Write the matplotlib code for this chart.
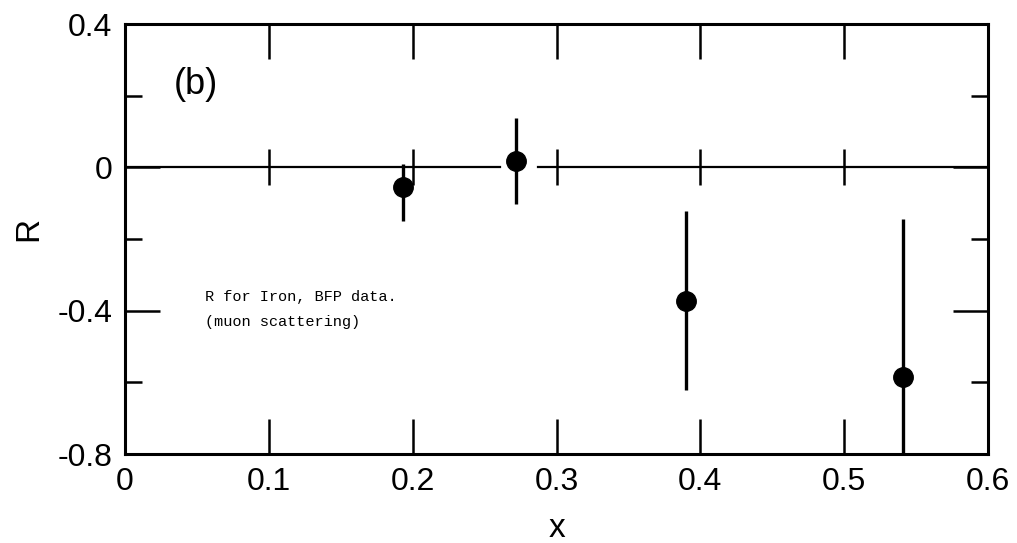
import matplotlib
matplotlib.use("Agg")
import matplotlib.pyplot as plt
from matplotlib.ticker import MultipleLocator

# R for iron, BFP muon scattering data
x_vals = [0.193, 0.272, 0.390, 0.541]
r_vals = [-0.056, 0.017, -0.372, -0.585]
err_low = [0.095, 0.12, 0.25, 0.44]
err_high = [0.066, 0.12, 0.25, 0.44]

x_ticks = [0, 0.1, 0.2, 0.3, 0.4, 0.5, 0.6]
x_tick_labels = ["0", "0.1", "0.2", "0.3", "0.4", "0.5", "0.6"]
y_ticks = [-0.8, -0.4, 0, 0.4]
y_tick_labels = ["-0.8", "-0.4", "0", "0.4"]

plt.rcParams["font.family"] = ["Liberation Sans", "DejaVu Sans"]

fig = plt.figure(figsize=(10.17, 5.43), dpi=100)
ax = fig.add_axes([0.1229, 0.1639, 0.8486, 0.7919])

ax.set_xlim(0, 0.6)
ax.set_ylim(-0.8, 0.4)

# zero line, interrupted around the second point
ax.plot([0, 0.261], [0, 0], color="black", lw=1.6, zorder=2)
ax.plot([0.287, 0.6], [0, 0], color="black", lw=1.6, zorder=2)
# small crossing ticks along the zero line
ax.vlines(x_ticks[1:-1], -0.05, 0.05, color="black", lw=1.8, zorder=2)

ax.errorbar(x_vals, r_vals, yerr=[err_low, err_high], fmt="o", color="black",
            ms=14, elinewidth=2.4, capsize=0, zorder=3, clip_on=True)

ax.set_xticks(x_ticks)
ax.set_xticklabels(x_tick_labels)
ax.set_yticks(y_ticks)
ax.set_yticklabels(y_tick_labels)
ax.yaxis.set_minor_locator(MultipleLocator(0.2))

ax.tick_params(axis="both", which="major", direction="in", length=25, width=1.8,
               top=True, right=True, labelsize=23, pad=9)
ax.tick_params(axis="y", which="minor", direction="in", length=12, width=1.8,
               left=True, right=True)

for side in ax.spines.values():
    side.set_linewidth(2.2)

ax.set_xlabel("x", fontsize=24, labelpad=12)
ax.set_ylabel("R", fontsize=24, va="center")
ax.yaxis.set_label_coords(-0.111, 0.523)

ax.text(0.049, 0.232, "(b)", fontsize=26, ha="center", va="center")
ax.text(0.0555, -0.362, "R for Iron, BFP data.", family=["Liberation Mono"],
        fontsize=11, ha="left", va="center")
ax.text(0.0555, -0.432, "(muon scattering)", family=["Liberation Mono"],
        fontsize=11, ha="left", va="center")

fig.savefig("out.png", dpi=100)
